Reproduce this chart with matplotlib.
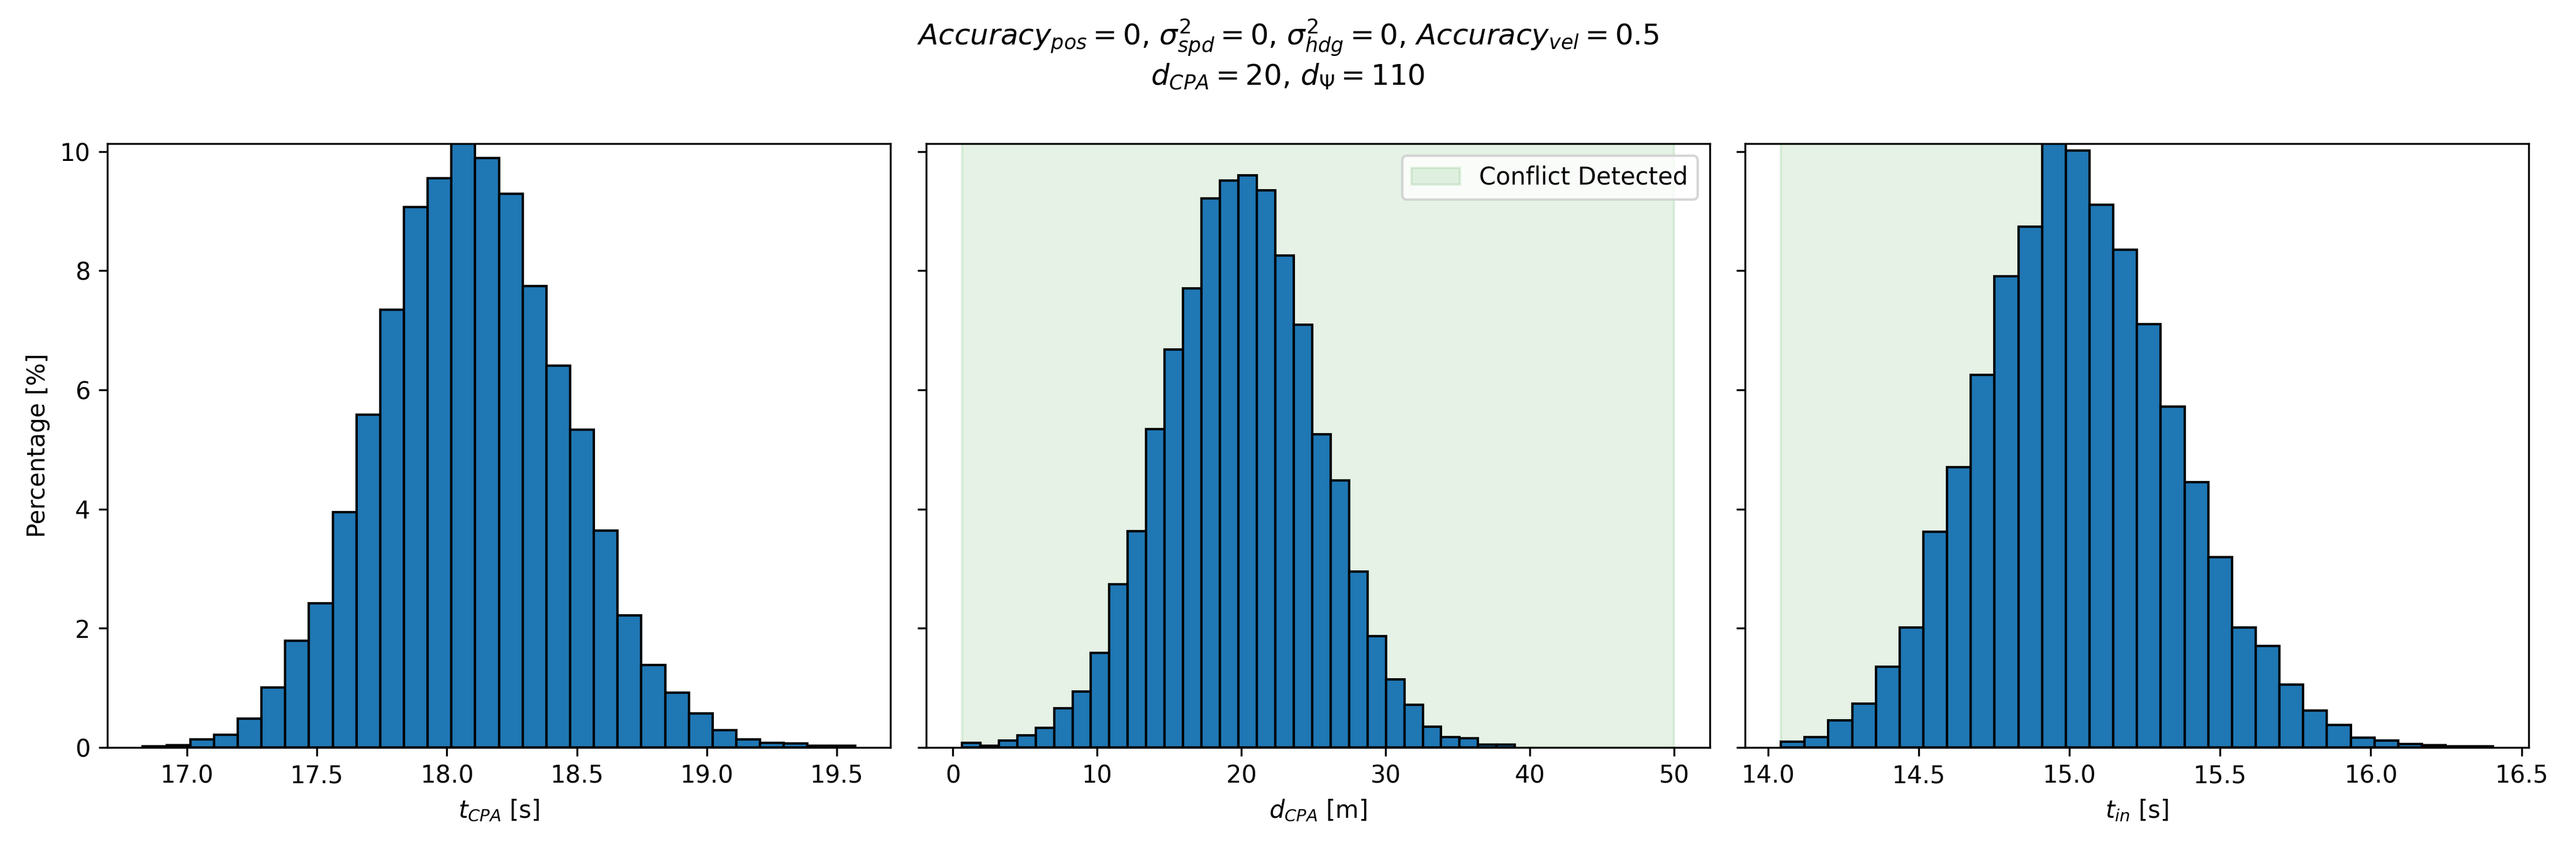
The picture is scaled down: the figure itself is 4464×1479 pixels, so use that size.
import numpy as np
import matplotlib.pyplot as plt

# bin ranges (30 bins each) and percentages
tcpa_range = (16.83, 19.57)
tcpa_pct = [0.02, 0.04, 0.13, 0.21, 0.48, 1.0, 1.79, 2.42, 3.95, 5.58, 7.35, 9.07, 9.55, 10.13, 9.89,
            9.29, 7.74, 6.41, 5.33, 3.64, 2.21, 1.38, 0.92, 0.57, 0.29, 0.13, 0.08, 0.07, 0.03, 0.03]

dcpa_range = (0.63, 38.97)
dcpa_pct = [0.08, 0.03, 0.11, 0.20, 0.33, 0.66, 0.94, 1.59, 2.74, 3.63, 5.34, 6.68, 7.70, 9.21, 9.51,
            9.60, 9.35, 8.26, 7.09, 5.25, 4.48, 2.95, 1.87, 1.14, 0.71, 0.35, 0.17, 0.15, 0.05, 0.05]

tin_range = (14.043, 16.406)
tin_pct = [0.09, 0.17, 0.45, 0.73, 1.35, 2.01, 3.62, 4.70, 6.25, 7.91, 8.74, 10.13, 10.02, 9.11, 8.35,
           7.10, 5.72, 4.45, 3.19, 2.01, 1.70, 1.05, 0.62, 0.38, 0.16, 0.11, 0.06, 0.04, 0.02, 0.02]

dcpa_conflict = (0.63, 50.0)
tin_conflict = (14.043, 14.91)

fig, axes = plt.subplots(1, 3, figsize=(14.88, 4.93), sharey=True)

panels = [
    (tcpa_range, tcpa_pct, r'$t_{CPA}$ [s]', None),
    (dcpa_range, dcpa_pct, r'$d_{CPA}$ [m]', dcpa_conflict),
    (tin_range, tin_pct, r'$t_{in}$ [s]', tin_conflict),
]
for ax, (rng, pct, xlabel, span) in zip(axes, panels):
    edges = np.linspace(rng[0], rng[1], len(pct) + 1)
    if span is not None:
        ax.axvspan(span[0], span[1], color='green', alpha=0.1, label='Conflict Detected')
    ax.bar(edges[:-1], pct, width=np.diff(edges), align='edge', color='#1f77b4', edgecolor='black')
    ax.set_xlabel(xlabel)

axes[0].set_ylabel('Percentage [%]')
axes[0].set_ylim(0, max(max(tcpa_pct), max(tin_pct)))
axes[1].legend(loc='upper right')

fig.suptitle(r'$Accuracy_{pos} = 0$, $\sigma^2_{spd} = 0$, $\sigma^2_{hdg} = 0$, $Accuracy_{vel} = 0.5$'
             '\n' r'$d_{CPA} = 20$, $d_{\Psi} = 110$')
fig.tight_layout()
fig.savefig('out.png', dpi=300)
